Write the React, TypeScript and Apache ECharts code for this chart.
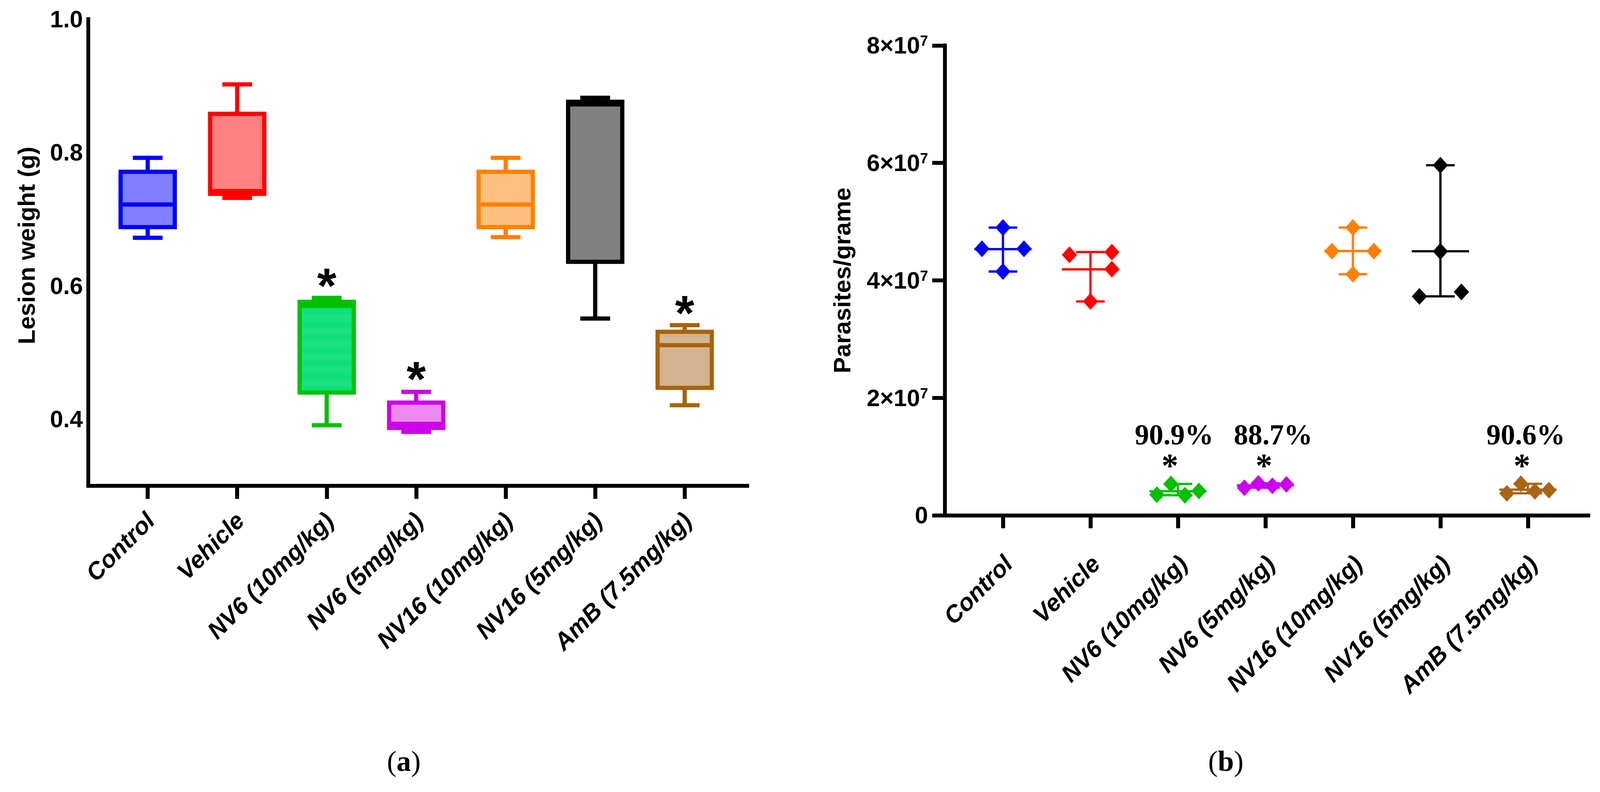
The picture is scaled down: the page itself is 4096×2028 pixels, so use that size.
import React, { useEffect, useRef } from 'react';
import * as echarts from 'echarts';

const S = 0.977;
const px = (v: number) => v * S;

const SANS = '"Liberation Sans", Arial, Helvetica, sans-serif';
const SERIF = '"Liberation Serif", "Times New Roman", serif';

// ---------- shared categories ----------
const categories = [
  'Control',
  'Vehicle',
  'NV6 (10mg/kg)',
  'NV6 (5mg/kg)',
  'NV16 (10mg/kg)',
  'NV16 (5mg/kg)',
  'AmB (7.5mg/kg)',
];

// ---------- panel (a): lesion weight (g), [min, Q1, median, Q3, max] ----------
const lesionControl = [0.672, 0.688, 0.722, 0.771, 0.792];
const lesionVehicle = [0.732, 0.738, 0.742, 0.858, 0.902];
const lesionNV6_10 = [0.391, 0.44, 0.57, 0.576, 0.582];
const lesionNV6_5 = [0.381, 0.387, 0.393, 0.425, 0.441];
const lesionNV16_10 = [0.673, 0.688, 0.722, 0.771, 0.792];
const lesionNV16_5 = [0.551, 0.636, 0.872, 0.876, 0.882];
const lesionAmB = [0.421, 0.447, 0.511, 0.531, 0.541];
const lesionBoxes = [lesionControl, lesionVehicle, lesionNV6_10, lesionNV6_5, lesionNV16_10, lesionNV16_5, lesionAmB];

const lesionStarCat = [2, 3, 6];
const lesionStarY = [0.616, 0.476, 0.575];
const lesionTickValues = [0.4, 0.6, 0.8, 1.0];

// ---------- panel (b): parasites per gram, individual animals (x 10^7) ----------
const parControl = [4.898, 4.538, 4.538, 4.15];
const parVehicle = [4.434, 4.481, 4.19, 3.641];
const parNV6_10 = [0.35, 0.534, 0.341, 0.414];
const parNV6_5 = [0.469, 0.544, 0.501, 0.527];
const parNV16_10 = [4.498, 4.898, 4.498, 4.104];
const parNV16_5 = [5.96, 4.492, 3.727, 3.803];
const parAmB = [0.374, 0.536, 0.408, 0.428];
const parGroups = [parControl, parVehicle, parNV6_10, parNV6_5, parNV16_10, parNV16_5, parAmB];

// horizontal spread of the points inside each group (category units)
const spreadControl = [0, -0.24, 0.24, 0];
const spreadVehicle = [-0.24, 0.245, 0.245, 0];
const spreadNV6_10 = [-0.24, -0.08, 0.08, 0.24];
const spreadNV6_5 = [-0.24, -0.08, 0.08, 0.24];
const spreadNV16_10 = [-0.24, 0, 0.24, 0];
const spreadNV16_5 = [0, 0, -0.24, 0.24];
const spreadAmB = [-0.24, -0.08, 0.08, 0.24];
const parSpreads = [spreadControl, spreadVehicle, spreadNV6_10, spreadNV6_5, spreadNV16_10, spreadNV16_5, spreadAmB];

const pctLabels = ['90.9%', '88.7%', '90.6%'];
const pctX = [1.956, 3.088, 5.976];
const pctY = [1.367, 1.367, 1.367]; // x 10^7
const parStarX = [1.908, 2.983, 5.932];
const parStarY = [0.93, 0.93, 0.93]; // x 10^7
const parTickValues = [0, 2, 4, 6, 8]; // x 10^7

// ---------- styles ----------
const boxStroke = ['#0000FF', '#FF0000', '#00C000', '#CC00E8', '#FF8000', '#000000', '#A6640A'];
const boxFill = ['#8080FF', '#FF8080', '#16E07C', '#EE88F0', '#FFC080', '#808080', '#D4B391'];
const dotColor = ['#0000FF', '#FF0000', '#00C000', '#CC00EE', '#FF8000', '#000000', '#A86612'];
const stripeColors = ['#1BE180', '#10E07A']; // faint banded fill of the NV6 (10mg/kg) box

const tickIdx = categories.map((_, i) => i);

function stripedFill(n: number) {
  const stops: { offset: number; color: string }[] = [];
  for (let k = 0; k < n; k++) {
    const c = stripeColors[k % 2];
    stops.push({ offset: k / n, color: c }, { offset: (k + 1) / n, color: c });
  }
  return new echarts.graphic.LinearGradient(0, 0, 0, 1, stops);
}

function buildOption() {
  const axisLineStyle = { color: '#000', width: px(10), cap: 'square' as const };
  const xLabelBase = {
    rotate: 45,
    fontFamily: SANS,
    fontWeight: 'bold' as const,
    fontStyle: 'italic' as const,
    fontSize: px(63),
    color: '#000',
    formatter: (v: number) => categories[Math.round(v)] ?? '',
  };

  const boxSeries = {
    type: 'custom',
    xAxisIndex: 0,
    yAxisIndex: 0,
    data: lesionBoxes.map((b, i) => [i, ...b]),
    encode: { x: 0, y: [1, 2, 3, 4, 5] },
    silent: true,
    renderItem: (params: any, api: any) => {
      const i = params.dataIndex;
      const x = api.value(0);
      const pt = (k: number) => api.coord([x, api.value(k)]);
      const [cx, yMin] = pt(1);
      const yQ1 = pt(2)[1];
      const yMed = pt(3)[1];
      const yQ3 = pt(4)[1];
      const yMax = pt(5)[1];
      const hw = px(71);
      const cw = px(39);
      const lw = px(11);
      const ls = { stroke: boxStroke[i], lineWidth: lw, fill: null };
      const fill = i === 2 ? stripedFill(Math.max(2, Math.round((yQ1 - yQ3) / px(17)))) : boxFill[i];
      return {
        type: 'group',
        children: [
          { type: 'line', shape: { x1: cx, y1: yMax, x2: cx, y2: yQ3 }, style: ls },
          { type: 'line', shape: { x1: cx, y1: yQ1, x2: cx, y2: yMin }, style: ls },
          { type: 'line', shape: { x1: cx - cw, y1: yMax, x2: cx + cw, y2: yMax }, style: ls },
          { type: 'line', shape: { x1: cx - cw, y1: yMin, x2: cx + cw, y2: yMin }, style: ls },
          {
            type: 'rect',
            shape: { x: cx - hw, y: yQ3, width: 2 * hw, height: yQ1 - yQ3 },
            style: { fill, stroke: boxStroke[i], lineWidth: lw },
          },
          { type: 'line', shape: { x1: cx - hw, y1: yMed, x2: cx + hw, y2: yMed }, style: ls },
        ],
      };
    },
  };

  const lesionStarSeries = {
    type: 'custom',
    xAxisIndex: 0,
    yAxisIndex: 0,
    silent: true,
    data: lesionStarCat.map((c, i) => [c, lesionStarY[i]]),
    renderItem: (params: any, api: any) => {
      const [x, y] = api.coord([api.value(0), api.value(1)]);
      return {
        type: 'text',
        x,
        y: y + px(27),
        style: {
          text: '*',
          fontFamily: SANS,
          fontWeight: 'bold',
          fontSize: px(130),
          fill: '#000',
          align: 'center',
          verticalAlign: 'middle',
          textAlign: 'center',
          textVerticalAlign: 'middle',
        },
      };
    },
  };

  const errSeries = {
    type: 'custom',
    xAxisIndex: 1,
    yAxisIndex: 1,
    silent: true,
    z: 2,
    data: parGroups.map((g, i) => {
      const mean = g.reduce((a, b) => a + b, 0) / g.length;
      return [i, Math.min(...g) * 1e7, mean * 1e7, Math.max(...g) * 1e7];
    }),
    encode: { x: 0, y: [1, 2, 3] },
    renderItem: (params: any, api: any) => {
      const i = params.dataIndex;
      const x = api.value(0);
      const [cx, yMin] = api.coord([x, api.value(1)]);
      const yMean = api.coord([x, api.value(2)])[1];
      const yMax = api.coord([x, api.value(3)])[1];
      const mw = px(75);
      const cw = px(37.5);
      const ls = { stroke: dotColor[i], lineWidth: px(6), fill: null };
      return {
        type: 'group',
        children: [
          { type: 'line', shape: { x1: cx, y1: yMax, x2: cx, y2: yMin }, style: ls },
          { type: 'line', shape: { x1: cx - cw, y1: yMax, x2: cx + cw, y2: yMax }, style: ls },
          { type: 'line', shape: { x1: cx - cw, y1: yMin, x2: cx + cw, y2: yMin }, style: ls },
          { type: 'line', shape: { x1: cx - mw, y1: yMean, x2: cx + mw, y2: yMean }, style: ls },
        ],
      };
    },
  };

  const dotSeries = parGroups.map((g, i) => ({
    type: 'scatter',
    xAxisIndex: 1,
    yAxisIndex: 1,
    silent: true,
    z: 3,
    symbol: 'diamond',
    symbolSize: [px(40), px(44)],
    itemStyle: { color: dotColor[i], opacity: 1 },
    data: g.map((v, j) => [i + parSpreads[i][j], v * 1e7]),
  }));

  // percentage + asterisk drawn as one two-line text
  const pctSeries = {
    type: 'custom',
    xAxisIndex: 1,
    yAxisIndex: 1,
    silent: true,
    z: 4,
    data: pctX.map((x, i) => [x, pctY[i] * 1e7, parStarX[i], parStarY[i] * 1e7]),
    renderItem: (params: any, api: any) => {
      const i = params.dataIndex;
      const [xp, yp] = api.coord([api.value(0), api.value(1)]);
      const [xs, ys0] = api.coord([api.value(2), api.value(3)]);
      const ys = ys0 + px(13);
      const gap = ys - yp;
      const dx = xs - xp;
      const pad = dx >= 0 ? [0, 0, 0, 2 * dx] : [0, -2 * dx, 0, 0];
      return {
        type: 'text',
        x: xp,
        y: (yp + ys) / 2,
        style: {
          text: `{p|${pctLabels[i]}}\n{s|*}`,
          align: 'center',
          verticalAlign: 'middle',
          textAlign: 'center',
          textVerticalAlign: 'middle',
          rich: {
            p: {
              fontFamily: SERIF,
              fontWeight: 'bold',
              fontSize: px(75),
              lineHeight: gap,
              verticalAlign: 'middle',
              fill: '#000',
              color: '#000',
            },
            s: {
              fontFamily: SERIF,
              fontWeight: 'bold',
              fontSize: px(88),
              lineHeight: gap,
              verticalAlign: 'middle',
              fill: '#000',
              color: '#000',
              padding: pad,
            },
          },
        },
      };
    },
  };

  const panelLabel = (letter: string, x: number, y: number) => ({
    type: 'text',
    x: px(x),
    y: px(y),
    style: {
      text: `{p|(}{b|${letter}}{p|)}`,
      align: 'center',
      verticalAlign: 'middle',
      textAlign: 'center',
      textVerticalAlign: 'middle',
      rich: {
        p: { fontFamily: SERIF, fontSize: px(76), fontWeight: 'normal', fill: '#000', color: '#000' },
        b: { fontFamily: SERIF, fontSize: px(76), fontWeight: 'bold', fill: '#000', color: '#000' },
      },
    },
  });

  return {
    animation: false,
    backgroundColor: '#fff',
    grid: [
      { left: px(231.3), top: px(50), width: px(1958 - 231.3), height: px(1273.5 - 50), containLabel: false },
      { left: px(2475.7), top: px(119), width: px(4161.6 - 2475.7), height: px(1350.5 - 119), containLabel: false },
    ],
    xAxis: [
      {
        type: 'value',
        gridIndex: 0,
        min: -0.664,
        max: 6.699,
        splitLine: { show: false },
        axisLine: { show: true, onZero: false, lineStyle: axisLineStyle },
        axisTick: { show: true, customValues: tickIdx, length: px(34), lineStyle: { color: '#000', width: px(10.5) } },
        axisLabel: { ...xLabelBase, customValues: tickIdx.map((i) => i + 0.03), margin: px(80) },
      },
      {
        type: 'value',
        gridIndex: 1,
        min: -0.6643,
        max: 6.6897,
        splitLine: { show: false },
        axisLine: { show: true, onZero: false, lineStyle: axisLineStyle },
        axisTick: { show: true, customValues: tickIdx, length: px(34), lineStyle: { color: '#000', width: px(10.5) } },
        axisLabel: { ...xLabelBase, customValues: tickIdx.map((i) => i + 0.06), margin: px(116) },
      },
    ],
    yAxis: [
      {
        type: 'value',
        gridIndex: 0,
        min: 0.3,
        max: 1.0,
        splitLine: { show: false },
        axisLine: { show: true, onZero: false, lineStyle: axisLineStyle },
        axisTick: { show: false },
        axisLabel: {
          customValues: lesionTickValues,
          formatter: (v: number) => v.toFixed(1),
          margin: px(14),
          fontFamily: SANS,
          fontWeight: 'bold',
          fontSize: px(62),
          color: '#000',
        },
        name: 'Lesion weight (g)',
        nameLocation: 'middle',
        nameGap: px(130),
        nameTextStyle: {
          fontFamily: SANS,
          fontWeight: 'bold',
          fontSize: px(63),
          color: '#000',
          padding: [0, 0, 0, px(37)],
        },
      },
      {
        type: 'value',
        gridIndex: 1,
        min: 0,
        max: 8e7,
        interval: 2e7,
        splitLine: { show: false },
        axisLine: { show: true, onZero: false, lineStyle: axisLineStyle },
        axisTick: { show: true, length: px(33), lineStyle: { color: '#000', width: px(10) } },
        axisLabel: {
          customValues: parTickValues.map((v) => v * 1e7),
          margin: px(44),
          formatter: (v: number) => (v === 0 ? '{m|0}' : `{m|${Math.round(v / 1e7)}×10}{s|7}`),
          rich: {
            m: { fontFamily: SANS, fontWeight: 'bold', fontSize: px(62), color: '#000', lineHeight: px(62) },
            s: { fontFamily: SANS, fontWeight: 'bold', fontSize: px(38), color: '#000', lineHeight: px(38), verticalAlign: 'top' },
          },
        },
        name: 'Parasites/grame',
        nameLocation: 'middle',
        nameGap: px(238),
        nameTextStyle: { fontFamily: SANS, fontWeight: 'bold', fontSize: px(63), color: '#000' },
      },
    ],
    graphic: [panelLabel('a', 1058, 1995), panelLabel('b', 3212, 1995)],
    series: [boxSeries, lesionStarSeries, errSeries, ...dotSeries, pctSeries],
  };
}

export default function App() {
  const ref = useRef<HTMLDivElement>(null);
  useEffect(() => {
    if (!ref.current) return;
    const chart = echarts.init(ref.current, null, { renderer: 'svg' });
    chart.setOption(buildOption() as any);
    return () => chart.dispose();
  }, []);
  return (
    <div
      ref={ref}
      style={{ position: 'fixed', left: 0, top: 0, width: '4096px', height: '2028px', background: '#fff' }}
    />
  );
}
